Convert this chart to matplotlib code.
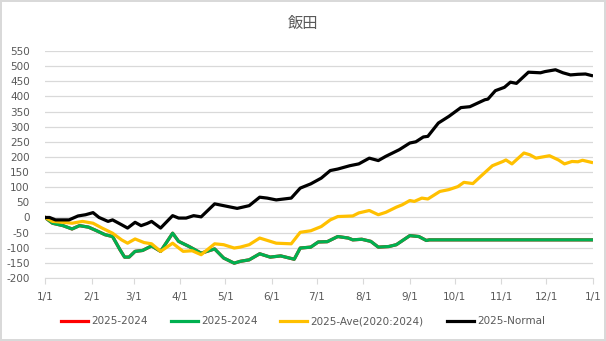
import numpy as np
import pandas as pd
import matplotlib
matplotlib.use("Agg")
import matplotlib.pyplot as plt
import matplotlib.dates as mdates

plt.rcParams['font.family'] = ['Noto Sans CJK JP', 'DejaVu Sans']
plt.rcParams['axes.unicode_minus'] = False

# 読み取った値 (1/1 からの日数, 値)
start = pd.Timestamp("2025-01-01")

dias_normal = [0, 3, 7, 16, 22, 27, 32, 36, 42, 45, 51, 55, 60, 64, 68, 71, 77, 85, 89, 94,
               99, 104, 113, 119, 128, 136, 143, 148, 154, 164, 170, 177, 184, 190, 195, 203,
               209, 216, 222, 227, 236, 243, 247, 252, 255, 262, 269, 277, 283, 293, 295, 300,
               306, 310, 314, 322, 330, 333, 340, 345, 350, 355, 360, 364]
normal = [0, 0, -8, -8, 5, 9, 16, 0, -13, -8, -24, -35, -16, -27, -20, -13, -35, 6, -2, -2,
          6, 2, 45, 39, 30, 39, 67, 64, 58, 64, 97, 111, 130, 155, 160, 171,
          177, 196, 188, 202, 224, 246, 250, 266, 268, 312, 334, 363, 366, 389, 391, 419,
          430, 447, 443, 480, 478, 482, 488, 478, 471, 473, 474, 469]

dias_ave = [0, 5, 12, 18, 25, 32, 38, 45, 51, 55, 60, 66, 71, 77, 85, 92, 98, 104, 113, 119,
            126, 130, 136, 143, 154, 164, 170, 177, 184, 190, 195, 205, 209, 216, 222, 227,
            234, 238, 243, 246, 251, 255, 263, 269, 275, 279, 285, 290, 298, 305, 307, 311,
            319, 323, 327, 336, 342, 346, 351, 355, 358, 364]
ave = [0, -13, -16, -19, -13, -19, -35, -52, -74, -85, -71, -83, -87, -112, -85, -112, -110, -123, -87, -90,
       -101, -98, -90, -68, -85, -87, -49, -44, -30, -8, 3, 5, 15, 23, 9, 17,
       34, 42, 56, 53, 64, 61, 86, 92, 102, 116, 112, 135, 171, 185, 190, 177,
       213, 207, 196, 204, 190, 177, 185, 184, 189, 182]

dias_2024 = [0, 5, 12, 18, 23, 29, 34, 40, 45, 50, 53, 56, 60, 65, 71, 77, 85, 89, 96, 104,
             113, 119, 126, 130, 136, 143, 150, 157, 166, 170, 177, 182, 188, 195, 202, 205,
             211, 217, 222, 229, 234, 243, 249, 254, 256, 364]
d2024 = [0, -19, -27, -38, -27, -32, -43, -57, -63, -107, -131, -131, -112, -109, -94, -112, -52, -79, -96, -118,
         -104, -134, -151, -145, -140, -120, -131, -127, -138, -101, -98, -81, -80, -63, -68, -74,
         -72, -79, -98, -96, -90, -60, -63, -76, -74, -74]

def fechas(dias):
    return [start + pd.Timedelta(days=d) for d in dias]

fig = plt.figure(figsize=(6.06, 3.41), dpi=100, edgecolor='#d9d9d9', linewidth=1.5)
ax = fig.add_axes([45 / 606, 63 / 341, 548 / 606, 227 / 341])

ax.plot(fechas(dias_2024), d2024, color='#ff0000', lw=2.3, label='2025-2024')
ax.plot(fechas(dias_2024), d2024, color='#00b050', lw=2.3, label='2025-2024')
ax.plot(fechas(dias_ave), ave, color='#ffc000', lw=2.3, label='2025-Ave(2020:2024)')
ax.plot(fechas(dias_normal), normal, color='#000000', lw=2.3, label='2025-Normal')

ax.set_ylim(-200, 550)
ax.set_yticks(np.arange(-200, 551, 50))
ax.set_xlim(start, pd.Timestamp("2026-01-01"))
ax.xaxis.set_major_locator(mdates.MonthLocator())
ax.xaxis.set_major_formatter(mdates.DateFormatter('%-m/%-d'))
ax.grid(axis='y', color='#d9d9d9', lw=0.9)
ax.set_axisbelow(True)
for s in ['top', 'right', 'left']:
    ax.spines[s].set_visible(False)
ax.spines['bottom'].set_color('#d9d9d9')
ax.tick_params(axis='y', length=0, labelsize=7.5, labelcolor='#595959', pad=11)
ax.tick_params(axis='x', length=4, color='#d9d9d9', labelsize=7.5, labelcolor='#595959', pad=6)
for lab in ax.get_yticklabels() + ax.get_xticklabels():
    lab.set_family('DejaVu Sans')

fig.text(0.5, 0.932, '飯田', ha='center', va='center', fontsize=11, color='#595959')
fig.legend(loc='center', bbox_to_anchor=(0.5, 0.058), ncol=4, frameon=False,
           handlelength=2.6, columnspacing=2.2, handletextpad=0.3,
           labelcolor='#595959', prop={'family': 'DejaVu Sans', 'size': 7.5})

fig.savefig('out.png', dpi=100)
